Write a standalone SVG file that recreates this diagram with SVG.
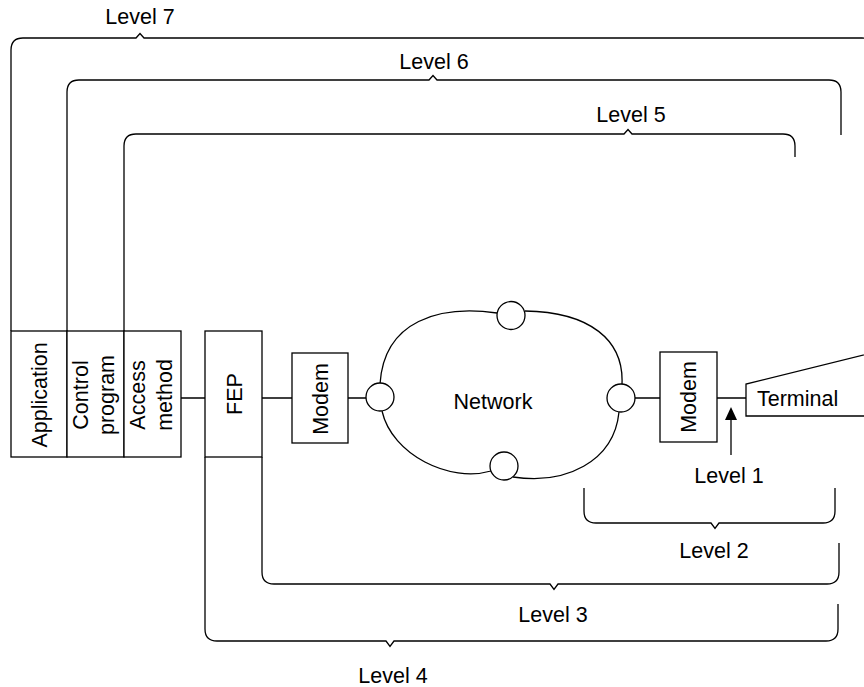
<svg xmlns="http://www.w3.org/2000/svg" width="864" height="687" viewBox="0 0 864 687">
<style>
.s{fill:none;stroke:#000;stroke-width:1.3;stroke-linejoin:miter}
.b{fill:#fff;stroke:#000;stroke-width:1.3}
.t{font-family:"Liberation Sans",Arial,sans-serif;font-size:21.5px;fill:#000}
.m{text-anchor:middle}
</style>
<rect width="864" height="687" fill="#fff"/>
<g id="connectors">
<path class="s" d="M181 398H205M262 398H292M348 398H366M635 398H660M717 398H746"/>
<path class="s" d="M11 331V50Q11 38 23 38H136L140 33.5L144 38H862Q874 38 874 50V140"/>
<path class="s" d="M67 331V92Q67 80 79 80H429L433 75.5L437 80H829Q841 80 841 92V135"/>
<path class="s" d="M124 331V146Q124 134 136 134H624L628 129.5L632 134H783Q795 134 795 146V157"/>
<path class="s" d="M584 488V511Q584 523 596 523H711L715 528.5L719 523H823Q835 523 835 511V488"/>
<path class="s" d="M262 457V572Q262 584 274 584H550L554 589.5L558 584H827Q839 584 839 572V543"/>
<path class="s" d="M205 457V629Q205 641 217 641H386L390 646.5L394 641H826Q838 641 838 629V604"/>
<path class="s" d="M731 455V418"/>
<polygon points="731,407 725,420 737,420" fill="#000"/>
<text class="t m" x="140" y="24">Level 7</text>
<text class="t m" x="434" y="69">Level 6</text>
<text class="t m" x="631" y="122">Level 5</text>
<text class="t m" x="729" y="483">Level 1</text>
<text class="t m" x="714" y="558">Level 2</text>
<text class="t m" x="553" y="622">Level 3</text>
<text class="t m" x="393" y="683">Level 4</text>
</g>
<g id="application">
<rect class="b" x="11" y="331" width="56" height="126"/>
<text class="t m" transform="translate(47 395) rotate(-90)">Application</text>
</g>
<g id="control-program">
<rect class="b" x="67" y="331" width="57" height="126"/>
<text class="t m" transform="translate(88 395) rotate(-90)">Control</text>
<text class="t m" transform="translate(114 395) rotate(-90)">program</text>
</g>
<g id="access-method">
<rect class="b" x="124" y="331" width="57" height="126"/>
<text class="t m" transform="translate(145 395) rotate(-90)">Access</text>
<text class="t m" transform="translate(172 395) rotate(-90)">method</text>
</g>
<g id="fep">
<rect class="b" x="205" y="331" width="57" height="126"/>
<text class="t m" transform="translate(242 394) rotate(-90)">FEP</text>
</g>
<g id="modem1">
<rect class="b" x="292" y="353" width="56" height="90"/>
<text class="t m" transform="translate(328 399) rotate(-90)">Modem</text>
</g>
<g id="network">
<path class="s" d="M380 384C384 320 440 305 497 313M525 311C590 312 624 340 622 384M619 412C614 462 565 485 513 477M491 471C450 483 392 455 382 411"/>
<circle class="b" cx="380" cy="397" r="14"/>
<circle class="b" cx="511" cy="315.5" r="14"/>
<circle class="b" cx="621" cy="398" r="14"/>
<circle class="b" cx="504" cy="466" r="14"/>
<text class="t m" x="493" y="409">Network</text>
</g>
<g id="modem2">
<rect class="b" x="660" y="352" width="57" height="90"/>
<text class="t m" transform="translate(696 397) rotate(-90)">Modem</text>
</g>
<g id="terminal">
<path class="b" d="M880 351L746 384V416H880"/>
<text class="t" x="757" y="406">Terminal</text>
</g>
</svg>
